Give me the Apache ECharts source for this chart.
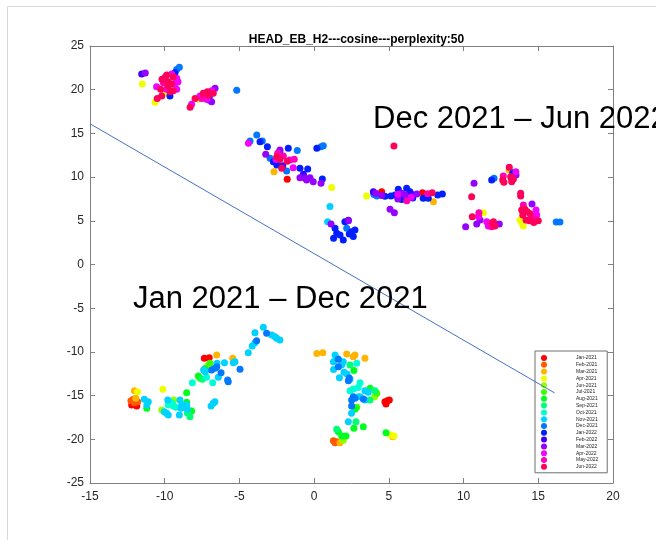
<!DOCTYPE html>
<html>
<head>
<meta charset="utf-8">
<title>HEAD_EB_H2 t-SNE</title>
<script src="https://cdn.jsdelivr.net/npm/echarts@6/dist/echarts.min.js"></script>
<style>
  html, body { margin: 0; padding: 0; background: #fff; }
  #chart { width: 656px; height: 540px; }
</style>
</head>
<body>
<div id="chart"></div>
<script>
// Legend entries (May-2021 has no samples)
const months = ['Jan-2021', 'Feb-2021', 'Mar-2021', 'Apr-2021', 'Jun-2021', 'Jul-2021',
  'Aug-2021', 'Sep-2021', 'Oct-2021', 'Nov-2021', 'Dec-2021', 'Jan-2022',
  'Feb-2022', 'Mar-2022', 'Apr-2022', 'May-2022', 'Jun-2022'];

// hsv(17) colormap
const monthColors = ['#ff0000', '#ff5a00', '#ffb400', '#f0ff00', '#96ff00', '#3cff00',
  '#00ff1e', '#00ff78', '#00ffd2', '#00d2ff', '#0078ff', '#001eff',
  '#3c00ff', '#9600ff', '#f000ff', '#ff00b4', '#ff005a'];

// 2-D embedding coordinates per month, [x, y]
const jan21 = [[-12.21, -16.07], [-11.87, -16.19], [-7.35, -10.73], [-7.02, -10.67],
  [4.74, -15.69], [4.9, -15.58], [5.03, -15.5], [4.81, -15.95],
  [-1.8, 9.75], [4.52, 8.33], [7.25, 8.22]];
const feb21 = [[-12.26, -15.58], [-12.1, -15.42], [-11.81, -15.69], [-12.03, -15.81],
  [1.29, -20.16], [1.4, -20.39], [1.51, -20.28]];
const mar21 = [[-11.94, -15.3], [-12.03, -14.44], [-6.52, -10.36], [-5.45, -10.73],
  [0.18, -10.17], [0.58, -10.09], [2.18, -10.24], [2.62, -10.55], [2.73, -10.36], [3.4, -10.73],
  [1.73, -20.39], [5.26, -19.7], [-2.69, 10.62], [7.98, 7.18], [13.05, 10.8]];
const apr21 = [[-11.81, -14.56], [-10.13, -14.28], [5.12, -19.51], [5.34, -19.62],
  [-11.5, 20.65], [-10.65, 18.56], [-9.98, 19.59], [-7.75, 18.9], [1.17, 8.81], [3.51, 7.84],
  [11.32, 5.93], [13.78, 5.09], [14.0, 4.4], [13.9, 4.75]];
const jun21 = [[-7.08, -11.5], [-10.2, -16.65], [-9.4, -15.5], [1.95, -20.1], [4.05, -15.12]];
const jul21 = [[-6.97, -11.3], [-7.64, -13.02], [2.85, -16.34], [4.19, -14.73]];
const aug21 = [[-7.75, -12.76], [-8.53, -14.67], [-11.2, -16.45], [-8.53, -15.75], [-8.2, -16.77],
  [-7.3, -11.9], [2.66, -12.14], [3.29, -18.56], [2.66, -18.74], [1.62, -19.13], [1.84, -19.62],
  [2.13, -19.62], [4.81, -19.24], [2.73, -16.57], [3.74, -14.17]];
const sep21 = [[-8.31, -17.41], [-8.48, -17.0], [-7.48, -13.14], [2.4, -11.5], [2.8, -17.98],
  [1.51, -18.86], [4.07, -14.44], [3.74, -15.5]];
const oct21 = [[-6.79, -13.52], [-8.15, -13.52], [-7.2, -12.9], [-9.65, -15.69], [-9.5, -15.88],
  [-9.76, -16.07], [-9.42, -16.19], [-9.26, -16.34], [2.85, -11.31], [3.07, -13.52],
  [2.4, -14.44], [2.62, -14.25], [2.95, -14.06], [2.95, -15.12]];
const nov21 = [[-3.4, -7.18], [-2.84, -8.07], [-2.51, -8.44], [-2.29, -8.64], [-2.62, -8.26],
  [-3.96, -7.8], [-3.96, -8.95], [-4.14, -9.33], [-4.41, -10.1], [-5.41, -11.23], [-5.3, -11.12],
  [-6.41, -12.91], [-6.0, -11.23], [-6.5, -11.3], [-7.4, -12.07], [-7.28, -12.26],
  [-11.37, -15.42], [-11.1, -15.69], [-11.2, -16.07], [-10.03, -16.84], [-9.87, -17.03],
  [-9.76, -17.22], [-9.8, -15.5], [-8.98, -15.5], [-8.86, -16.07], [-8.91, -16.45],
  [-8.53, -16.07], [-8.48, -16.55], [-9.02, -17.22], [-6.75, -15.88], [-6.9, -16.19],
  [-6.64, -15.69], [1.4, -10.36], [1.29, -11.12], [1.51, -10.73], [1.95, -11.12], [1.84, -11.5],
  [2.0, -12.33], [2.2, -12.52], [1.69, -12.95], [2.4, -13.13], [3.4, -14.44], [3.62, -14.63],
  [3.07, -15.12], [3.4, -15.5], [2.5, -17.03], [2.29, -17.98], [1.3, -12.0],
  [0.9, 4.9], [1.06, 6.63]];
const dec21 = [[-3.18, -7.87], [-3.85, -8.72], [-4.96, -11.99], [-5.79, -13.21], [-5.75, -13.41],
  [-6.23, -12.38], [-6.64, -11.87], [-6.52, -11.69], [-6.86, -12.07], [1.62, -10.85],
  [1.62, -11.69], [2.35, -13.0], [2.29, -13.3], [2.62, -15.12], [2.51, -15.5], [2.73, -15.31],
  [3.29, -15.4], [2.51, -16.19], [-9.02, 22.56], [-9.2, 22.3], [-5.18, 19.93], [-3.84, 14.82],
  [-4.29, 14.13], [-3.47, 14.13], [-2.95, 12.15], [-1.13, 13.03], [-1.84, 10.7], [0.61, 13.6],
  [0.46, 13.48], [2.18, 4.14], [4.0, 8.0], [4.2, 7.84], [6.3, 7.6], [12.04, 9.87],
  [16.2, 4.85], [16.45, 4.87]];
const jan22 = [[-9.31, 21.95], [-9.65, 19.28], [-7.04, 18.82], [-3.62, 14.05], [-3.13, 13.48],
  [-1.73, 13.3], [-2.73, 11.77], [-2.5, 11.38], [-0.95, 11.0], [-0.43, 10.93], [0.55, 9.78],
  [0.18, 13.3], [1.4, 4.14], [1.51, 3.57], [1.73, 3.37], [1.95, 2.8], [2.06, 4.9], [2.51, 3.76],
  [2.62, 3.19], [2.73, 3.95], [2.35, 3.5], [1.3, 3.0], [4.74, 7.8], [5.14, 7.84], [5.41, 7.95],
  [5.63, 8.6], [6.19, 8.71], [6.41, 8.33], [6.6, 7.6], [5.86, 7.45], [7.3, 7.57], [7.64, 7.57],
  [8.27, 7.95], [8.58, 8.07], [11.88, 9.67], [13.29, 10.5], [-2.3, 12.9]];
const feb22 = [[-11.54, 21.8], [-0.72, 10.32], [2.29, 5.07], [-2.1, 11.3], [3.96, 8.33],
  [6.53, 8.03], [-7.0, 19.3]];
const mar22 = [[-11.3, 21.9], [-6.63, 20.16], [-6.86, 18.63], [-2.29, 13.1], [-3.24, 12.61],
  [-0.61, 9.86], [-0.5, 9.67], [-0.28, 9.93], [-0.95, 9.93], [-0.06, 9.47], [0.46, 9.29],
  [1.13, 4.63], [2.29, 5.0], [4.12, 8.15], [4.52, 7.9], [5.86, 8.15], [6.08, 7.95], [6.87, 8.07],
  [5.08, 6.31], [5.37, 5.93], [5.6, 7.5], [10.7, 9.29], [13.51, 10.24], [14.58, 6.92],
  [10.88, 4.63], [10.14, 4.33], [12.39, 4.63], [11.1, 5.1], [13.2, 9.9]];
const apr22 = [[-9.53, 21.8], [-9.2, 21.3], [-9.31, 20.73], [-10.54, 20.34], [-9.87, 20.05],
  [-9.2, 20.05], [-9.11, 20.9], [-6.86, 19.89], [-7.64, 19.28], [-8.2, 18.33], [-7.2, 18.9],
  [-4.4, 13.87], [-1.62, 11.96], [-1.4, 11.08], [-2.55, 12.0], [5.6, 8.05], [6.5, 7.7],
  [14.85, 6.24], [14.89, 5.67], [14.56, 5.55], [11.55, 4.9], [11.0, 5.5], [11.66, 4.4],
  [13.5, 10.6]];
const may22 = [[-10.09, 20.8], [-9.98, 21.42], [-7.3, 19.2], [-7.53, 19.0], [-2.06, 12.41],
  [-1.33, 12.04], [-2.44, 12.72], [7.6, 8.1], [14.0, 6.81], [11.03, 5.93], [11.77, 4.71],
  [11.88, 4.33], [14.67, 5.29], [12.66, 10.13], [6.2, 7.3]];
const jun22 = [[-9.87, 21.68], [-9.43, 21.49], [-9.76, 20.92], [-9.53, 20.65], [-10.27, 20.05],
  [-9.65, 19.77], [-9.43, 19.89], [-10.2, 19.28], [-9.78, 20.4], [-10.18, 21.2], [-10.5, 19.0],
  [-7.15, 19.77], [-7.42, 19.59], [-7.04, 19.4], [-7.97, 19.0], [-6.75, 19.59], [-8.3, 18.0],
  [-2.5, 12.33], [-2.17, 11.0], [-1.8, 11.8], [-2.3, 12.0], [5.34, 13.56], [7.9, 8.22],
  [13.06, 11.12], [12.62, 9.67], [13.15, 10.05], [13.22, 9.47], [13.33, 9.75], [12.7, 9.4],
  [10.54, 7.76], [13.82, 8.15], [13.82, 7.84], [13.89, 6.24], [14.11, 6.31], [14.27, 6.04],
  [14.4, 5.01], [14.18, 5.09], [13.96, 5.67], [15.0, 5.0], [14.7, 4.8], [14.45, 5.8],
  [10.58, 5.47], [11.99, 4.63], [12.1, 4.4], [12.0, 4.9]];

const monthPoints = [jan21, feb21, mar21, apr21, jun21, jul21, aug21, sep21, oct21, nov21,
  dec21, jan22, feb22, mar22, apr22, may22, jun22];

// Separating line drawn across the embedding
const dividerX = [-15, 16.1];
const dividerY = [16.1, -14.7];

const xTicks = { min: -15, max: 20, step: 5 };
const yTicks = { min: -25, max: 25, step: 5 };

const chart = echarts.init(document.getElementById('chart'), null, { renderer: 'canvas' });

const axisGrey = '#808080';
const labelColor = '#262626';
const fontFamily = "'Liberation Sans', Arial, Helvetica, sans-serif";

const baseAxis = {
  axisLine: { show: true, onZero: false, lineStyle: { color: axisGrey, width: 1 } },
  axisTick: { show: true, inside: true, length: 5, lineStyle: { color: axisGrey } },
  splitLine: { show: false }
};

const scatterSeries = months.map((name, i) => ({
  name: name,
  type: 'scatter',
  xAxisIndex: 0,
  yAxisIndex: 0,
  data: monthPoints[i],
  symbol: 'circle',
  symbolSize: 7,
  itemStyle: { color: monthColors[i], opacity: 1 },
  emphasis: { disabled: true },
  z: 2
}));

const option = {
  animation: false,
  backgroundColor: '#ffffff',
  title: {
    text: 'HEAD_EB_H2---cosine---perplexity:50',
    left: 351.5,
    textAlign: 'center',
    top: 29,
    textStyle: { fontFamily: fontFamily, fontSize: 12, fontWeight: 'bold', color: '#000' }
  },
  grid: { left: 90, right: 43, top: 46, bottom: 57, containLabel: false },
  xAxis: [
    Object.assign({}, baseAxis, {
      type: 'value', position: 'bottom', min: xTicks.min, max: xTicks.max, interval: xTicks.step,
      axisLabel: { show: true, color: labelColor, fontSize: 12, fontFamily: fontFamily, margin: 8 }
    }),
    Object.assign({}, baseAxis, {
      type: 'value', position: 'top', min: xTicks.min, max: xTicks.max, interval: xTicks.step,
      axisLabel: { show: false }
    })
  ],
  yAxis: [
    Object.assign({}, baseAxis, {
      type: 'value', position: 'left', min: yTicks.min, max: yTicks.max, interval: yTicks.step,
      axisLabel: { show: true, color: labelColor, fontSize: 12, fontFamily: fontFamily, margin: 6 }
    }),
    Object.assign({}, baseAxis, {
      type: 'value', position: 'right', min: yTicks.min, max: yTicks.max, interval: yTicks.step,
      axisLabel: { show: false }
    })
  ],
  legend: {
    show: true,
    orient: 'vertical',
    left: 535,
    top: 351,
    data: months,
    icon: 'circle',
    itemWidth: 10,
    itemHeight: 6,
    itemGap: 0.8,
    padding: [4, 9, 3, 6],
    backgroundColor: '#ffffff',
    borderColor: '#6e6e6e',
    borderWidth: 1,
    selectedMode: false,
    textStyle: { fontFamily: fontFamily, fontSize: 5, lineHeight: 6, color: '#222', padding: [0, 0, 0, 22] },
    z: 4
  },
  series: scatterSeries.concat([{
    name: 'divider',
    type: 'line',
    xAxisIndex: 0,
    yAxisIndex: 0,
    data: dividerX.map((x, i) => [x, dividerY[i]]),
    symbol: 'none',
    lineStyle: { color: '#4472c4', width: 1 },
    emphasis: { disabled: true },
    silent: true,
    z: 10
  }]),
  graphic: [
    { type: 'line', shape: { x1: 7.5, y1: 6.5, x2: 656, y2: 6.5 }, style: { stroke: '#d9d9d9', lineWidth: 1 }, silent: true },
    { type: 'line', shape: { x1: 7.5, y1: 6.5, x2: 7.5, y2: 540 }, style: { stroke: '#d9d9d9', lineWidth: 1 }, silent: true },
    {
      type: 'text', left: 373, top: 104, silent: true, z: 20,
      style: { text: 'Dec 2021 \u2013 Jun 2022', font: "31px 'Liberation Sans', Arial, sans-serif", fill: '#000' }
    },
    {
      type: 'text', left: 133, top: 284, silent: true, z: 20,
      style: { text: 'Jan 2021 \u2013 Dec 2021', font: "31px 'Liberation Sans', Arial, sans-serif", fill: '#000' }
    }
  ]
};

chart.setOption(option);
</script>
</body>
</html>
